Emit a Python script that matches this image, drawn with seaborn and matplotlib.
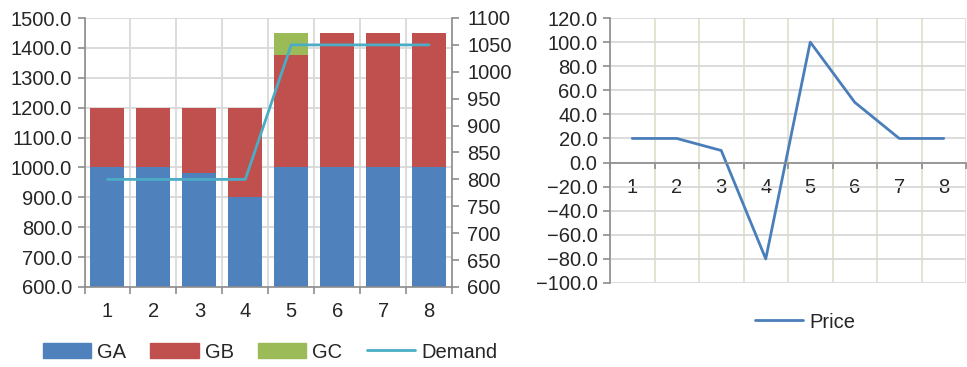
import numpy as np
import pandas as pd
import matplotlib
matplotlib.use("Agg")
import matplotlib.pyplot as plt
from matplotlib.ticker import FuncFormatter, MultipleLocator, FixedLocator
from matplotlib.patches import Patch
from matplotlib.lines import Line2D
import seaborn as sns

# ---- data ----
periods = ["1", "2", "3", "4", "5", "6", "7", "8"]
ga = [1000, 1000, 980, 900, 1000, 1000, 1000, 1000]
gb = [200, 200, 220, 300, 375, 450, 450, 450]
gc = [0, 0, 0, 0, 75, 0, 0, 0]
demand = [800, 800, 800, 800, 1050, 1050, 1050, 1050]
price = [20, 20, 10, -80, 100, 50, 20, 20]

C_GA, C_GB, C_GC = "#4f81bd", "#c0504d", "#9bbb59"
C_DEM, C_PRICE = "#4bacc6", "#4a7ebb"
SPINE = "#8c8c8c"

sns.set_theme(style="white")
plt.rcParams['font.family'] = ['Liberation Sans', 'DejaVu Sans']
FS = 14.5

W, H = 967, 367
fig = plt.figure(figsize=(W / 100, H / 100), dpi=100)


def rect(l, t, r, b):
    return [l / W, (H - b) / H, (r - l) / W, (b - t) / H]


ax1 = fig.add_axes(rect(84.5, 18, 452, 287))
ax3 = fig.add_axes(rect(610, 18, 966, 283))

df = pd.DataFrame({"period": periods, "GA": ga, "GB": gb, "GC": gc,
                   "Demand": demand, "Price": price})
df["AB"] = df["GA"] + df["GB"]
df["ABC"] = df["AB"] + df["GC"]
df["pos"] = np.arange(len(periods))

# ---- left chart: stacked bars (drawn as cumulative totals) ----
for col, c in [("ABC", C_GC), ("AB", C_GB), ("GA", C_GA)]:
    sns.barplot(data=df, x="period", y=col, color=c, width=0.74,
                saturation=1, linewidth=0, ax=ax1, errorbar=None)
ax1.set_axisbelow(True)
ax1.set_ylim(600, 1500)
ax1.yaxis.set_major_locator(MultipleLocator(100))
ax1.yaxis.set_major_formatter(FuncFormatter(lambda v, p: f"{v:.1f}"))
ax1.set_xlim(-0.5, 7.5)
ax1.set_xlabel("")
ax1.set_ylabel("")
ax1.xaxis.set_minor_locator(FixedLocator(np.arange(-0.5, 8, 1)))
ax1.grid(True, axis="y", which="major", color="#d9d9d9", lw=1.3)
ax1.grid(True, axis="x", which="minor", color="#d9d9d9", lw=1.3)
ax1.tick_params(axis="x", which="major", length=0, pad=11, labelsize=FS)
ax1.tick_params(axis="x", which="minor", length=5, width=1.2, color=SPINE,
                direction="out", bottom=True)
ax1.tick_params(axis="y", length=5, width=1.2, color=SPINE, direction="out",
                left=True, pad=4, labelsize=FS)
for s in ["top", "right"]:
    ax1.spines[s].set_visible(False)
for s in ["left", "bottom"]:
    ax1.spines[s].set_color(SPINE)
    ax1.spines[s].set_linewidth(1.2)

ax2 = ax1.twinx()
sns.lineplot(data=df, x="pos", y="Demand", color=C_DEM, lw=2, ax=ax2)
ax2.set_xlim(-0.5, 7.5)
ax2.set_ylim(600, 1100)
ax2.yaxis.set_major_locator(MultipleLocator(50))
ax2.yaxis.set_major_formatter(FuncFormatter(lambda v, p: f"{v:.0f}"))
ax2.set_ylabel("")
ax2.set_xlabel("")
ax2.grid(False)
ax2.tick_params(axis="y", length=5, width=1.2, color=SPINE, direction="out",
                right=True, pad=6, labelsize=FS)
for s in ["top", "left", "bottom"]:
    ax2.spines[s].set_visible(False)
ax2.spines["right"].set_color(SPINE)
ax2.spines["right"].set_linewidth(1.2)

# ---- right chart: price line ----
sns.lineplot(data=df, x="pos", y="Price", color=C_PRICE, lw=2, ax=ax3)
ax3.set_xlim(-0.5, 7.5)
ax3.set_ylim(-100, 120)
ax3.yaxis.set_major_locator(MultipleLocator(20))
ax3.yaxis.set_major_formatter(
    FuncFormatter(lambda v, p: f"{v:.1f}".replace("-", "\u2212")))
ax3.set_xticks(df["pos"])
ax3.set_xticklabels(periods)
ax3.xaxis.set_minor_locator(FixedLocator(np.arange(-0.5, 8, 1)))
ax3.set_xlabel("")
ax3.set_ylabel("")
ax3.set_axisbelow(True)
ax3.grid(True, axis="y", which="major", color="#d9d9d9", lw=1.3)
ax3.grid(True, axis="x", which="minor", color="#e0e0cc", lw=1.3)
ax3.grid(False, axis="x", which="major")
ax3.spines["bottom"].set_position(("data", 0))
ax3.tick_params(axis="x", which="major", length=0, pad=11, labelsize=FS)
ax3.tick_params(axis="x", which="minor", length=4, width=1.2, color=SPINE,
                direction="out", bottom=True)
ax3.tick_params(axis="y", length=5, width=1.2, color=SPINE, direction="out",
                left=True, pad=4, labelsize=FS)
for s in ["top", "right"]:
    ax3.spines[s].set_visible(False)
for s in ["left", "bottom"]:
    ax3.spines[s].set_color(SPINE)
    ax3.spines[s].set_linewidth(1.2)

# ---- legends ----
h1 = [Patch(color=C_GA, label="GA"), Patch(color=C_GB, label="GB"),
      Patch(color=C_GC, label="GC"), Line2D([], [], color=C_DEM, lw=2, label="Demand")]
fig.legend(handles=h1, loc="center", bbox_to_anchor=(270 / W, 1 - 352 / H),
           ncol=4, frameon=False, fontsize=FS, handlelength=2.4,
           handleheight=0.7, handletextpad=0.3, columnspacing=1.2)
h2 = [Line2D([], [], color=C_PRICE, lw=2, label="Price")]
fig.legend(handles=h2, loc="center", bbox_to_anchor=(805 / W, 1 - 322 / H),
           ncol=1, frameon=False, fontsize=FS, handlelength=2.4,
           handletextpad=0.3)

fig.savefig("out.png", dpi=100)
